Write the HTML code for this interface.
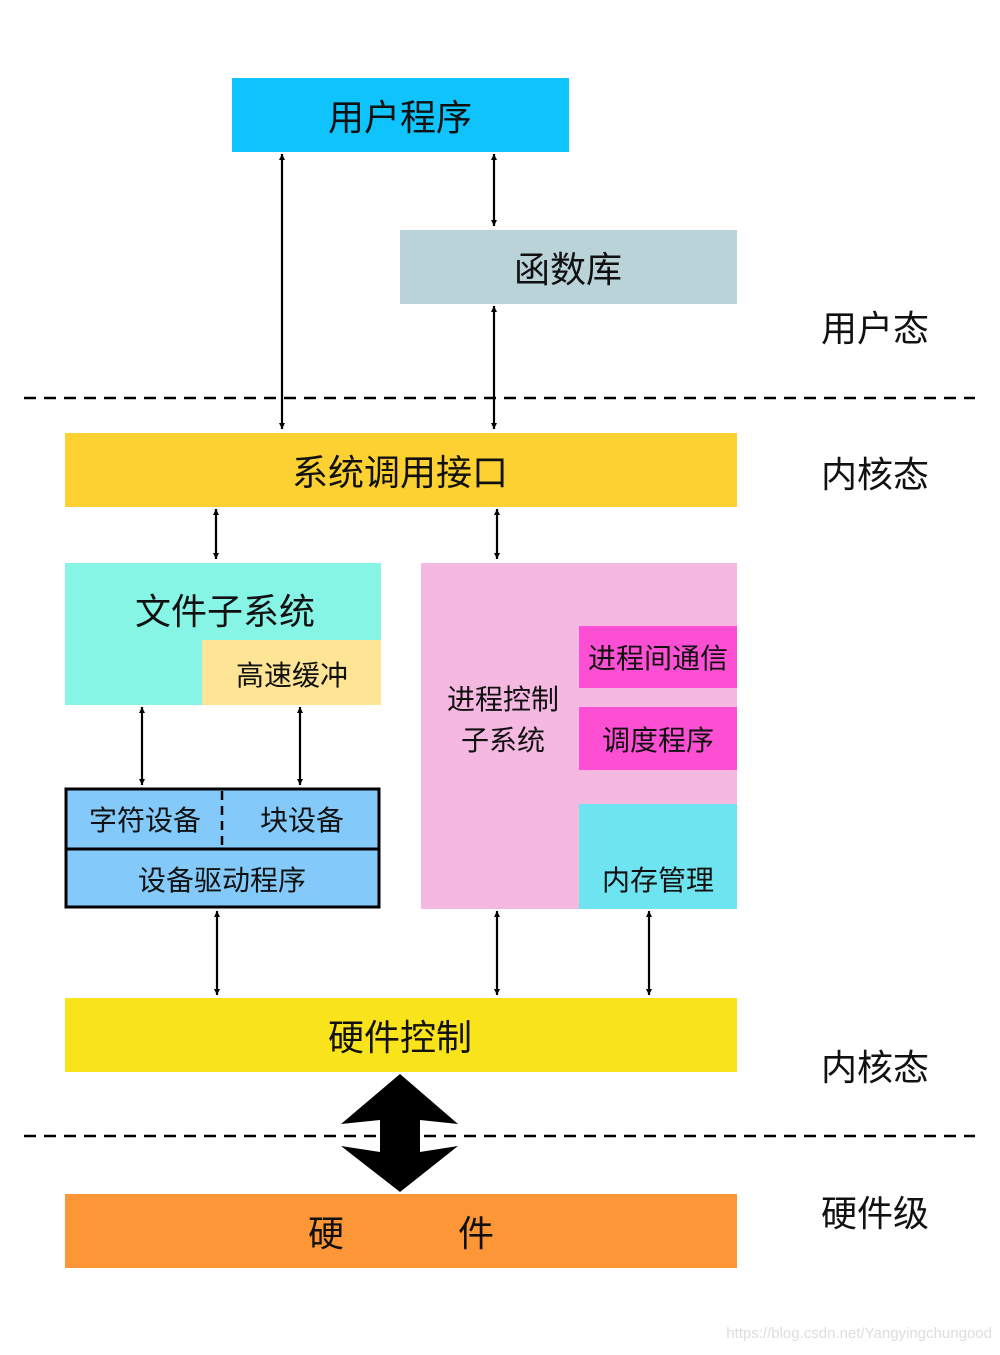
<!DOCTYPE html>
<html><head><meta charset="utf-8"><style>
html,body{margin:0;padding:0;background:#fff}
svg text{font-family:"Liberation Sans","Noto Sans CJK SC",sans-serif;fill:#111}
</style></head><body>
<svg width="1000" height="1350" viewBox="0 0 1000 1350" xmlns="http://www.w3.org/2000/svg">
<defs>
<marker id="a" viewBox="0 0 10 10" refX="10" refY="5" markerWidth="6" markerHeight="8" orient="auto-start-reverse" markerUnits="userSpaceOnUse"><path d="M0,0 L10,5 L0,10 Z" fill="#000"/></marker>
</defs>
<g stroke="#000" stroke-width="2" marker-start="url(#a)" marker-end="url(#a)" style="marker-start:url(#a);marker-end:url(#a)">
</g>
<style>.ar{stroke:#000;stroke-width:2.2;marker-start:url(#a);marker-end:url(#a)}</style>
<!-- boxes -->
<rect x="232" y="78" width="337" height="74" fill="#0fc4fc"/>
<text x="400" y="130" font-size="36" text-anchor="middle">用户程序</text>
<rect x="400" y="230" width="337" height="74" fill="#b9d3d9"/>
<text x="568" y="282" font-size="36" text-anchor="middle">函数库</text>
<text x="875" y="341" font-size="36" text-anchor="middle">用户态</text>
<line x1="24" y1="398" x2="975" y2="398" stroke="#000" stroke-width="2.5" stroke-dasharray="12,8"/>
<rect x="65" y="433" width="672" height="74" fill="#fdd132"/>
<text x="400" y="485" font-size="36" text-anchor="middle">系统调用接口</text>
<text x="875" y="487" font-size="36" text-anchor="middle">内核态</text>
<rect x="65" y="563" width="316" height="142" fill="#86f5e6"/>
<text x="225" y="624" font-size="36" text-anchor="middle">文件子系统</text>
<rect x="202" y="640" width="179" height="65" fill="#fde595"/>
<text x="292" y="685" font-size="28" text-anchor="middle">高速缓冲</text>
<rect x="421" y="563" width="316" height="346" fill="#f4b8e1"/>
<text x="503" y="709" font-size="28" text-anchor="middle">进程控制</text>
<text x="503" y="750" font-size="28" text-anchor="middle">子系统</text>
<rect x="579" y="626" width="158" height="62" fill="#fc4fd3"/>
<text x="658" y="668" font-size="28" text-anchor="middle">进程间通信</text>
<rect x="579" y="707" width="158" height="63" fill="#fc4fd3"/>
<text x="658" y="750" font-size="28" text-anchor="middle">调度程序</text>
<rect x="579" y="804" width="158" height="105" fill="#6ee4f0"/>
<text x="658" y="890" font-size="28" text-anchor="middle">内存管理</text>
<rect x="66" y="789" width="313" height="118" fill="#83cafa" stroke="#000" stroke-width="3"/>
<line x1="66" y1="849" x2="379" y2="849" stroke="#000" stroke-width="3"/>
<line x1="222" y1="791" x2="222" y2="845" stroke="#000" stroke-width="2.5" stroke-dasharray="9,6"/>
<text x="145" y="830" font-size="28" text-anchor="middle">字符设备</text>
<text x="302" y="830" font-size="28" text-anchor="middle">块设备</text>
<text x="222" y="890" font-size="28" text-anchor="middle">设备驱动程序</text>
<rect x="65" y="998" width="672" height="74" fill="#f9e41c"/>
<text x="400" y="1050" font-size="36" text-anchor="middle">硬件控制</text>
<text x="875" y="1080" font-size="36" text-anchor="middle">内核态</text>
<line x1="24" y1="1136" x2="975" y2="1136" stroke="#000" stroke-width="2.5" stroke-dasharray="12,8"/>
<polygon points="400,1074 458,1124 420,1120 420,1152 458,1146 400,1192 341,1146 380,1152 380,1120 341,1124" fill="#000"/>
<rect x="65" y="1194" width="672" height="74" fill="#fc9636"/>
<text x="326" y="1246" font-size="36" text-anchor="middle">硬</text>
<text x="476" y="1246" font-size="36" text-anchor="middle">件</text>
<text x="875" y="1226" font-size="36" text-anchor="middle">硬件级</text>
<!-- arrows -->
<line class="ar" x1="282" y1="154" x2="282" y2="429"/>
<line class="ar" x1="494" y1="154" x2="494" y2="226"/>
<line class="ar" x1="494" y1="306" x2="494" y2="429"/>
<line class="ar" x1="216" y1="509" x2="216" y2="559"/>
<line class="ar" x1="497" y1="509" x2="497" y2="559"/>
<line class="ar" x1="142" y1="707" x2="142" y2="785"/>
<line class="ar" x1="300" y1="707" x2="300" y2="785"/>
<line class="ar" x1="217" y1="911" x2="217" y2="995"/>
<line class="ar" x1="497" y1="911" x2="497" y2="995"/>
<line class="ar" x1="649" y1="911" x2="649" y2="995"/>
<text x="992" y="1338" font-size="15" text-anchor="end" style="fill:#ddd">https://blog.csdn.net/Yangyingchungood</text>
</svg>
</body></html>
